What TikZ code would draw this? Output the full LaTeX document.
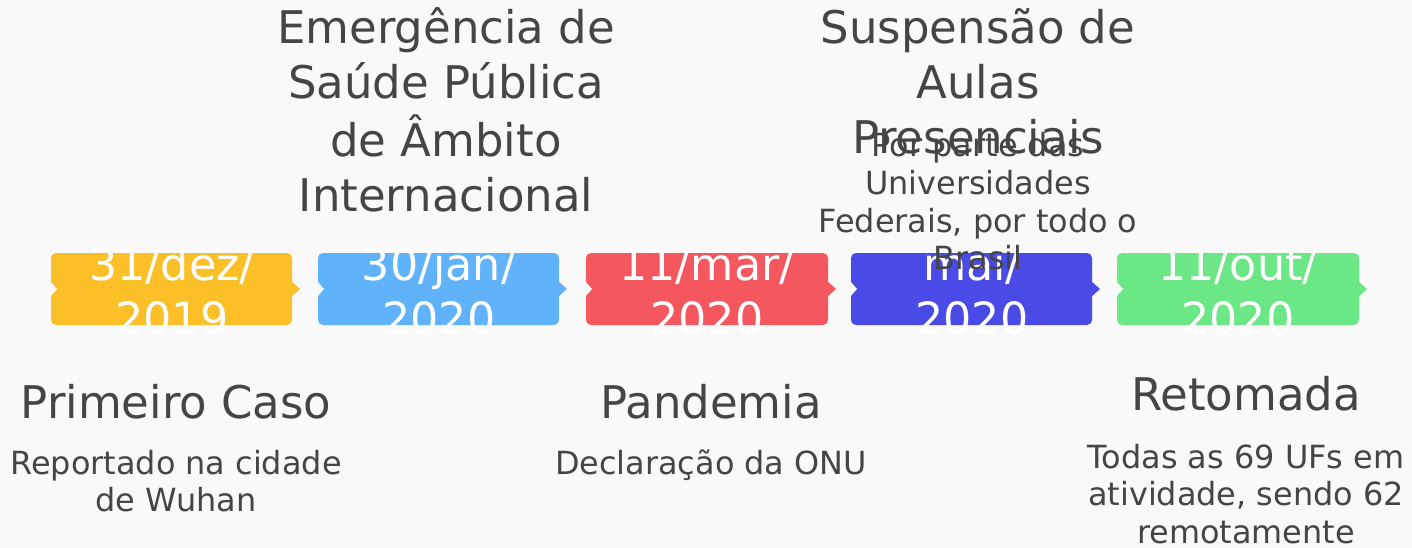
\documentclass[tikz,border=0pt]{standalone}
\usepackage{fontspec}
\setmainfont{DejaVu Sans}
\definecolor{bg}{HTML}{F9F9F9}
\definecolor{txt}{HTML}{454545}
\definecolor{cyellow}{HTML}{FBBF28}
\definecolor{cblue}{HTML}{60B2FB}
\definecolor{cred}{HTML}{F5575F}
\definecolor{cindigo}{HTML}{4A4AE6}
\definecolor{cgreen}{HTML}{6BE785}
\newcommand{\ml}[1]{\begin{tabular}[t]{@{}c@{}}#1\end{tabular}}
\tikzset{
  head/.style={font=\fontsize{45}{54.7}\selectfont, text=txt, inner sep=0pt, anchor=base},
  subtxt/.style={font=\fontsize{31.9}{37.6}\selectfont, text=txt, inner sep=0pt, anchor=base},
  datetxt/.style={font=\fontsize{44.4}{54}\selectfont, text=white, inner sep=0pt, anchor=base},
}
\newcommand{\tbox}[3]{% left x, right x, colour
  \fill[#3, rounded corners=5pt] (#1,253) rectangle (#2,325);
  \fill[bg] (#1-1,281) -- (#1+6,289) -- (#1-1,297) -- cycle;
  \fill[#3] (#2-1,281) -- (#2+8,289) -- (#2-1,297) -- cycle;
}
\begin{document}
\begin{tikzpicture}[x=1pt,y=-1pt]
\fill[bg] (0,0) rectangle (1412,548);
\useasboundingbox (0,0) rectangle (1412,548);

\tbox{51}{292}{cyellow}
\tbox{318}{559}{cblue}
\tbox{586}{828}{cred}
\tbox{851}{1092}{cindigo}
\tbox{1117}{1359}{cgreen}

\node[datetxt] (d1) at (172,280) {\ml{31/dez/\\2019}};
\node[datetxt] (d2) at (439,280) {\ml{30/jan/\\2020}};
\node[datetxt] (d3) at (707,280) {\ml{11/mar/\\2020}};
\node[datetxt] (d4) at (972,280) {\ml{mai/\\2020}};
\node[datetxt] (d5) at (1238,280) {\ml{11/out/\\2020}};

\node[head] (h2) at (446,44) {\ml{Emergência de\\Saúde Pública\\de Âmbito\\Internacional}};
\node[head] (h4) at (978,44) {\ml{Suspensão de\\Aulas\\Presenciais}};
\node[subtxt] (s4) at (978,157) {\ml{Por parte das\\Universidades\\Federais, por todo o\\Brasil}};

\node[head] (h1) at (176,418) {Primeiro Caso};
\node[subtxt] (s1) at (176,474) {\ml{Reportado na cidade\\de Wuhan}};
\node[head] (h3) at (711,418) {Pandemia};
\node[subtxt] (s3) at (711,474) {Declaração da ONU};
\node[head] (h5) at (1246,410) {Retomada};
\node[subtxt] (s5) at (1246,468) {\ml{Todas as 69 UFs em\\atividade, sendo 62\\remotamente}};
\end{tikzpicture}
\end{document}
